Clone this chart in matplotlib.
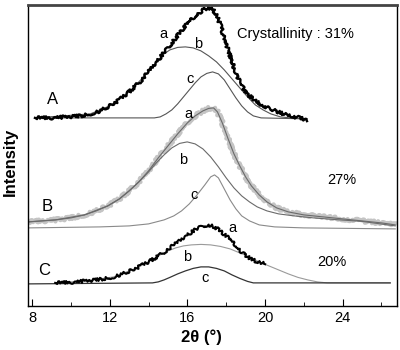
import matplotlib
matplotlib.use("Agg")
import matplotlib.pyplot as plt
from matplotlib.ticker import MultipleLocator

plt.rcParams['font.family'] = ['Liberation Sans', 'DejaVu Sans']

# 2theta (deg) and intensity (arbitrary, stacked with offsets)
# --- sample A (31%) ---
A_a_x = [8.15, 9.0, 9.8, 10.5, 11.0, 11.5, 12.0, 12.5, 13.0, 13.5, 14.0, 14.5, 15.0,
         15.4, 15.8, 16.2, 16.6, 16.9, 17.1, 17.3, 17.5, 17.7, 17.9, 18.1, 18.3, 18.5,
         18.7, 18.9, 19.2, 19.5, 19.9, 20.3, 20.8, 21.3, 21.8, 22.18]
A_a_y = [188, 188, 189, 190, 192, 195, 200, 206, 214, 223, 234, 246, 258,
         268, 278, 286, 293, 297, 298, 297, 291, 281, 268, 256, 244, 233,
         224, 217, 210, 205, 200, 197, 193, 190, 188, 186]
A_b_x = [8.15, 11.0, 12.0, 13.0, 14.0, 14.5, 14.8, 15.1, 15.5, 15.9, 16.3, 16.7, 17.1,
         17.5, 17.9, 18.3, 18.7, 19.1, 19.5, 19.9, 20.3, 20.8, 21.3, 22.18]
A_b_y = [188, 192, 200, 214, 234, 246, 252, 256, 258.5, 259, 258, 255, 250,
         244, 236, 227, 218, 209, 201, 196, 192, 189, 188, 187]
A_c_x = [8.15, 14.3, 14.6, 14.9, 15.2, 15.5, 15.8, 16.1, 16.4, 16.7, 17.0, 17.3, 17.6,
         17.9, 18.2, 18.5, 18.8, 19.1, 19.4, 19.8, 22.18]
A_c_y = [188, 188, 189, 192, 196, 202, 209, 216, 223, 229, 232.5, 234, 232,
         226, 217, 208, 200, 194, 190, 188, 187]

# --- sample B (27%) ---
B_a_x = [7.79, 8.5, 9.2, 10.0, 10.7, 11.3, 11.9, 12.5, 13.0, 13.5, 14.0, 14.5, 15.0,
         15.5, 16.0, 16.4, 16.8, 17.1, 17.35, 17.55, 17.8, 18.1, 18.4, 18.7, 19.0, 19.3,
         19.7, 20.1, 20.6, 21.2, 22.0, 23.0, 24.0, 25.0, 26.0, 26.71]
B_a_y = [84, 85, 86, 88, 91, 95, 100, 107, 115, 124, 135, 148, 160,
         172, 183, 190, 195, 197.5, 198, 194, 183, 167, 152, 140, 129, 120,
         111, 104, 98, 94, 91, 89, 87, 85, 83, 81]
B_b_x = [7.79, 9.2, 10.7, 11.9, 12.5, 13.0, 13.5, 14.0, 14.4, 14.8, 15.2, 15.6, 15.99,
         16.4, 16.8, 17.2, 17.6, 18.0, 18.4, 18.8, 19.2, 19.6, 20.1, 20.7, 21.5, 22.5,
         23.5, 25.0, 26.71]
B_b_y = [84, 86, 91, 100, 107, 115, 124, 134, 143, 151, 158, 162.5, 164,
         162, 157, 149, 139, 128, 118, 110, 104, 99, 95, 92, 90, 88,
         86.5, 84.5, 80]
B_c_x = [7.79, 11.5, 13.0, 14.0, 14.8, 15.3, 15.7, 16.1, 16.5, 16.9, 17.2, 17.4, 17.6,
         17.9, 18.2, 18.5, 18.8, 19.2, 19.7, 20.5, 22.0, 26.71]
B_c_y = [78, 79, 80, 82, 86, 90, 95, 102, 111, 121, 129, 131, 128,
         117, 106, 97, 90, 85, 81, 79, 78, 77]

# --- sample C (20%) ---
C_a_x = [9.19, 10.0, 10.8, 11.5, 12.2, 12.8, 13.4, 14.0, 14.6, 15.1, 15.6, 16.0, 16.4,
         16.8, 17.1, 17.4, 17.7, 18.0, 18.3, 18.6, 18.9, 19.2, 19.5, 19.8, 20.01]
C_a_y = [23, 23.5, 25, 26.5, 29, 33, 38, 44, 51, 58, 65, 71, 76,
         80, 81, 79, 75, 70, 64, 58, 52, 48, 45, 43, 42]
C_b_x = [9.19, 10.8, 12.2, 13.4, 14.0, 14.6, 15.0, 15.4, 15.8, 16.2, 16.7, 17.2, 17.7,
         18.2, 18.7, 19.2, 19.7, 20.2, 20.7, 21.2, 21.7, 22.2, 22.7, 23.21, 26.45]
C_b_y = [23, 25, 29, 38, 44, 51, 55, 58, 60, 61, 61.5, 61, 59.5,
         57, 53, 49, 44, 40, 36, 32, 28.5, 26, 24, 23, 23]
C_c_x = [7.79, 14.2, 14.5, 14.8, 15.1, 15.5, 15.9, 16.3, 16.7, 17.1, 17.5, 17.9, 18.3,
         18.7, 19.1, 19.4, 26.45]
C_c_y = [22, 23, 24, 26, 28.5, 32, 35, 37.5, 39, 39, 37.5, 35, 31,
         27.5, 24.5, 23, 23]

fig = plt.figure(figsize=(4, 3.5), dpi=100)
ax = fig.add_axes([0.07, 0.126, 0.9225, 0.86])

# A
ax.plot(A_b_x, A_b_y, color='#555555', lw=0.8)
ax.plot(A_c_x, A_c_y, color='#555555', lw=0.8)
la, = ax.plot(A_a_x, A_a_y, color='black', lw=1.7)
# B
lb, = ax.plot(B_a_x, B_a_y, color='#c4c4c4', lw=3.0)
ax.plot(B_a_x, B_a_y, color='#6a6a6a', lw=0.8)
ax.plot(B_b_x, B_b_y, color='#6a6a6a', lw=0.8)
ax.plot(B_c_x, B_c_y, color='#8a8a8a', lw=0.8)
# C
ax.plot(C_b_x, C_b_y, color='#9a9a9a', lw=0.8)
ax.plot(C_c_x, C_c_y, color='#333333', lw=0.9)
lc, = ax.plot(C_a_x, C_a_y, color='black', lw=1.5)

# noisy look of the measured patterns
for ln in (la, lb, lc):
    ln.set_sketch_params(scale=1.6, length=2.5, randomness=8)

fs = 10.5
kw = dict(ha='center', va='center')
ax.text(9.03, 206, 'A', fontsize=12, **kw)
ax.text(14.75, 272, 'a', fontsize=fs, **kw)
ax.text(16.56, 262, 'b', fontsize=fs, **kw)
ax.text(16.14, 227, 'c', fontsize=fs, **kw)
ax.text(21.56, 272, 'Crystallinity : 31%', fontsize=fs, **kw)

ax.text(8.77, 99, 'B', fontsize=12, **kw)
ax.text(16.04, 192, 'a', fontsize=fs, **kw)
ax.text(15.78, 146, 'b', fontsize=fs, **kw)
ax.text(16.35, 111, 'c', fontsize=fs, **kw)
ax.text(23.98, 126, '27%', fontsize=fs, **kw)

ax.text(8.62, 35, 'C', fontsize=12, **kw)
ax.text(18.31, 78, 'a', fontsize=fs, **kw)
ax.text(15.99, 49, 'b', fontsize=fs, **kw)
ax.text(16.92, 28, 'c', fontsize=fs, **kw)
ax.text(23.46, 44, '20%', fontsize=fs, **kw)

ax.set_xlim(7.79, 26.8)
ax.set_ylim(0, 301)
ax.xaxis.set_major_locator(MultipleLocator(4))
ax.xaxis.set_minor_locator(MultipleLocator(2))
ax.tick_params(axis='x', which='major', direction='in', length=5, labelsize=fs, pad=4)
ax.tick_params(axis='x', which='minor', direction='in', length=3)
ax.set_yticks([])
ax.spines['top'].set_linewidth(2.0)
ax.spines['top'].set_color('#444444')
for s in ['left', 'bottom', 'right']:
    ax.spines[s].set_linewidth(1.0)

ax.set_xlabel('2θ (°)', fontsize=12, fontweight='bold')
ax.xaxis.set_label_coords(0.47, -0.077)
ax.set_ylabel('Intensity', fontsize=12, fontweight='bold')
ax.yaxis.set_label_coords(-0.027, 0.48)

fig.savefig('out.png', dpi=100)
